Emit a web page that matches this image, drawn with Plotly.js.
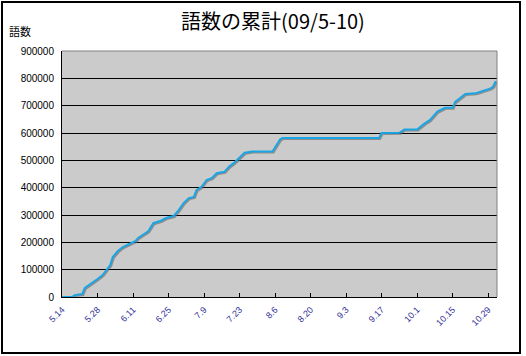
<!DOCTYPE html>
<html>
<head>
<meta charset="utf-8">
<script src="https://cdn.plot.ly/plotly-3.0.1.min.js"></script>
<style>
  html, body { margin: 0; padding: 0; background: #fff; }
  #wrap { position: relative; width: 526px; height: 356px; }
  #chart { position: absolute; left: 0; top: 0; width: 526px; height: 356px; }
  #frame { position: absolute; left: 1px; top: 1px; width: 516px; height: 349px; border: 2px solid #000; pointer-events: none; }
  .scatterlayer .js-line { filter: drop-shadow(1px 1px 0 rgba(100,100,100,0.6)); }
</style>
</head>
<body>
<div id="wrap">
  <div id="chart"></div>
  <div id="frame"></div>
</div>
<script>
// Dates (2009) and cumulative word counts
const dates = [
  '2009-05-14','2009-05-18','2009-05-19','2009-05-22','2009-05-23','2009-05-26','2009-05-28','2009-05-30',
  '2009-06-01','2009-06-02','2009-06-03','2009-06-05','2009-06-07','2009-06-10','2009-06-12','2009-06-13',
  '2009-06-15','2009-06-17','2009-06-19','2009-06-22','2009-06-24','2009-06-27','2009-06-29',
  '2009-07-01','2009-07-03','2009-07-05','2009-07-06','2009-07-08','2009-07-10','2009-07-12','2009-07-14',
  '2009-07-17','2009-07-19','2009-07-21','2009-07-25','2009-07-28',
  '2009-08-05','2009-08-08','2009-08-09',
  '2009-09-16','2009-09-17','2009-09-24','2009-09-26',
  '2009-10-01','2009-10-04','2009-10-06','2009-10-09','2009-10-12','2009-10-15','2009-10-16','2009-10-20',
  '2009-10-24','2009-10-26','2009-10-28','2009-10-30','2009-10-31','2009-11-01'
];
const words = [
  0, 0, 7000, 11000, 33000, 51000, 66000, 80000,
  102000, 117000, 146000, 168000, 183000, 197000, 205000, 216000,
  227000, 240000, 270000, 279000, 289000, 296000, 318000,
  344000, 362000, 366000, 391000, 403000, 428000, 435000, 453000,
  458000, 478000, 492000, 528000, 532000,
  532000, 577000, 582000,
  582000, 600000, 601000, 613000,
  613000, 635000, 647000, 678000, 692000, 692000, 714000, 743000,
  745000, 751000, 757000, 763000, 770000, 790000
];
const tickDates = ['2009-05-14','2009-05-28','2009-06-11','2009-06-25','2009-07-09','2009-07-23','2009-08-06',
  '2009-08-20','2009-09-03','2009-09-17','2009-10-01','2009-10-15','2009-10-29'];
const tickLabels = ['5.14','5.28','6.11','6.25','7.9','7.23','8.6','8.20','9.3','9.17','10.1','10.15','10.29'];
const titleText = '語数の累計(09/5-10)';
const yTitle = '語数';

const trace = {
  x: dates, y: words, type: 'scatter', mode: 'lines',
  line: { color: '#1aa6e4', width: 2 },
  hoverinfo: 'skip'
};

const layout = {
  width: 526, height: 356,
  margin: { l: 62, r: 29, t: 51, b: 59 },
  paper_bgcolor: '#ffffff',
  plot_bgcolor: '#cbcbcb',
  showlegend: false,
  title: {
    text: titleText,
    font: { family: '"Noto Sans CJK JP", sans-serif', size: 20, color: '#000' },
    xref: 'container', x: 0.519, xanchor: 'center',
    yref: 'container', y: 0.938, yanchor: 'middle'
  },
  xaxis: {
    type: 'date',
    range: ['2009-05-14', '2009-11-01 12:00'],
    tickvals: tickDates, ticktext: tickLabels,
    tickangle: -45,
    tickfont: { family: '"Liberation Sans", sans-serif', size: 9, color: '#333399' },
    ticks: 'inside', ticklen: 4, tickcolor: '#000', tickwidth: 1,
    ticklabelstandoff: 3,
    showgrid: false, zeroline: false,
    showline: true, linecolor: '#000', linewidth: 1,
    fixedrange: true
  },
  yaxis: {
    range: [0, 900000], dtick: 100000, tick0: 0,
    tickformat: 'd',
    tickfont: { family: '"Liberation Sans Narrow", "Liberation Sans", sans-serif', size: 10, color: '#000' },
    ticks: '', ticklabelstandoff: 5,
    showgrid: true, gridcolor: '#000', gridwidth: 1,
    zeroline: false,
    showline: true, linecolor: '#000', linewidth: 1,
    fixedrange: true
  },
  shapes: [
    { type: 'line', xref: 'paper', yref: 'paper', x0: 0, x1: 1, y0: 1, y1: 1, line: { color: '#808080', width: 1 } },
    { type: 'line', xref: 'paper', yref: 'paper', x0: 1, x1: 1, y0: 0, y1: 1, line: { color: '#808080', width: 1 } }
  ],
  annotations: [
    { text: yTitle, xref: 'paper', yref: 'paper', x: -0.126, y: 1.081, xanchor: 'left', yanchor: 'middle',
      showarrow: false, font: { family: '"Noto Sans CJK JP", sans-serif', size: 11, color: '#000' } }
  ]
};

Plotly.newPlot('chart', [trace], layout, { staticPlot: true, displayModeBar: false });
</script>
</body>
</html>
